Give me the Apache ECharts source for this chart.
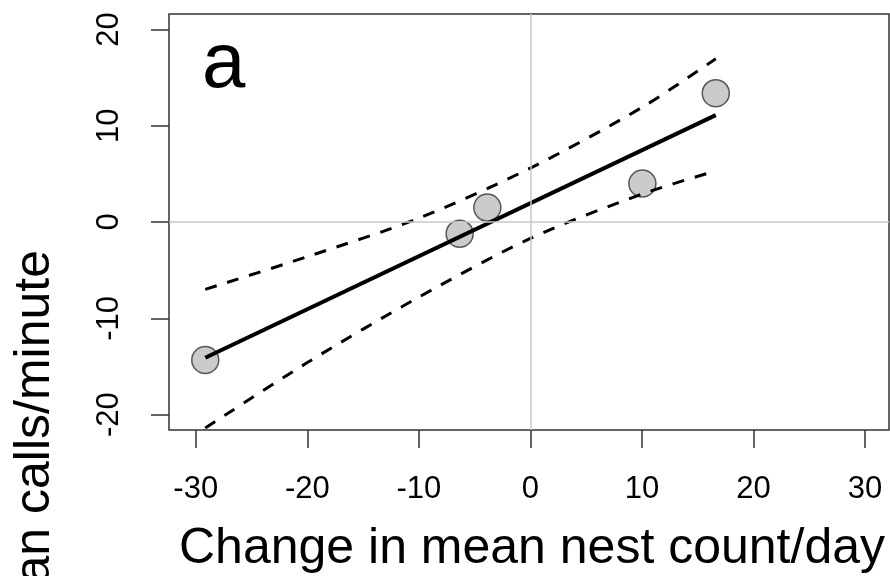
<!DOCTYPE html>
<html>
<head>
<meta charset="utf-8">
<script src="https://cdn.jsdelivr.net/npm/echarts@6/dist/echarts.min.js"></script>
<style>
  html, body { margin: 0; padding: 0; background: #fff; }
  #chart { width: 890px; height: 576px; }
</style>
</head>
<body>
<div id="chart"></div>
<script>
// observed points
var nestChange = [-29.15, -6.34, -3.86, 10.04, 16.62];
var callChange = [-14.33, -1.21, 1.5, 4.0, 13.38];

// fitted line (end points)
var fitX = [-29.15, 16.62];
var fitY = [-14.1, 11.1];

// confidence band
var bandX = [-29.15, -20, -10, 0, 10, 16.62];
var upperY = [-7.0, -3.6, 0.4, 5.6, 11.9, 16.95];
var lowerY = [-21.4, -14.6, -7.8, -1.7, 2.9, 5.3];

var xTicks = [-30, -20, -10, 0, 10, 20, 30];
var yTicks = [-20, -10, 0, 10, 20];

function pairs(xs, ys) {
    var res = [];
    for (var i = 0; i < xs.length; i++) {
        res.push([xs[i], ys[i]]);
    }
    return res;
}

var font = 'Liberation Sans, Arial, sans-serif';
var myChart = echarts.init(document.getElementById('chart'));

myChart.setOption({
    animation: false,
    backgroundColor: '#fff',
    grid: {
        left: 169, top: 14, right: 1, bottom: 146,
        show: true,
        borderColor: '#333',
        borderWidth: 1.5
    },
    xAxis: {
        type: 'value',
        min: -32.4,
        max: 32.15,
        axisLine: { show: false, onZero: false },
        splitLine: { show: false },
        axisTick: {
            show: true, inside: false, length: 18,
            customValues: xTicks,
            lineStyle: { color: '#333', width: 1.5 }
        },
        axisLabel: {
            customValues: xTicks,
            fontFamily: font, fontSize: 31, color: '#000',
            margin: 44
        }
    },
    yAxis: {
        type: 'value',
        min: -21.6,
        max: 21.6,
        axisLine: { show: false, onZero: false },
        splitLine: { show: false },
        axisTick: {
            show: true, inside: false, length: 18,
            customValues: yTicks,
            lineStyle: { color: '#333', width: 1.5 }
        },
        axisLabel: {
            customValues: yTicks,
            rotate: 90,
            fontFamily: font, fontSize: 31, color: '#000',
            margin: 44
        }
    },
    graphic: [
        {
            type: 'text', x: 202, y: 104,
            style: { text: 'a', font: '78px ' + font, fill: '#000', textVerticalAlign: 'bottom' }
        },
        {
            type: 'text', x: 532, y: 574,
            style: { text: 'Change in mean nest count/day', font: '50px ' + font, fill: '#000',
                     textAlign: 'center', textVerticalAlign: 'bottom' }
        },
        {
            type: 'text', x: 60, y: 250, rotation: Math.PI / 2,
            style: { text: 'Change in mean calls/minute', font: '50px ' + font, fill: '#000',
                     textAlign: 'right', textVerticalAlign: 'bottom' }
        }
    ],
    series: [
        {
            type: 'scatter',
            data: pairs(nestChange, callChange),
            symbol: 'circle',
            symbolSize: 27,
            z: 2,
            itemStyle: { color: '#bebebe', borderColor: '#333', borderWidth: 1.5 },
            markLine: {
                silent: true,
                symbol: 'none',
                label: { show: false },
                lineStyle: { color: '#c8c8c8', width: 1.5, type: 'solid' },
                data: [{ xAxis: 0 }, { yAxis: 0 }]
            }
        },
        {
            type: 'line',
            data: pairs(fitX, fitY),
            showSymbol: false,
            z: 4,
            lineStyle: { color: '#000', width: 4 }
        },
        {
            type: 'line',
            data: pairs(bandX, upperY),
            showSymbol: false,
            smooth: 0.3,
            z: 4,
            lineStyle: { color: '#000', width: 3, type: [12, 11] }
        },
        {
            type: 'line',
            data: pairs(bandX, lowerY),
            showSymbol: false,
            smooth: 0.3,
            z: 4,
            lineStyle: { color: '#000', width: 3, type: [12, 11] }
        }
    ]
});
</script>
</body>
</html>
